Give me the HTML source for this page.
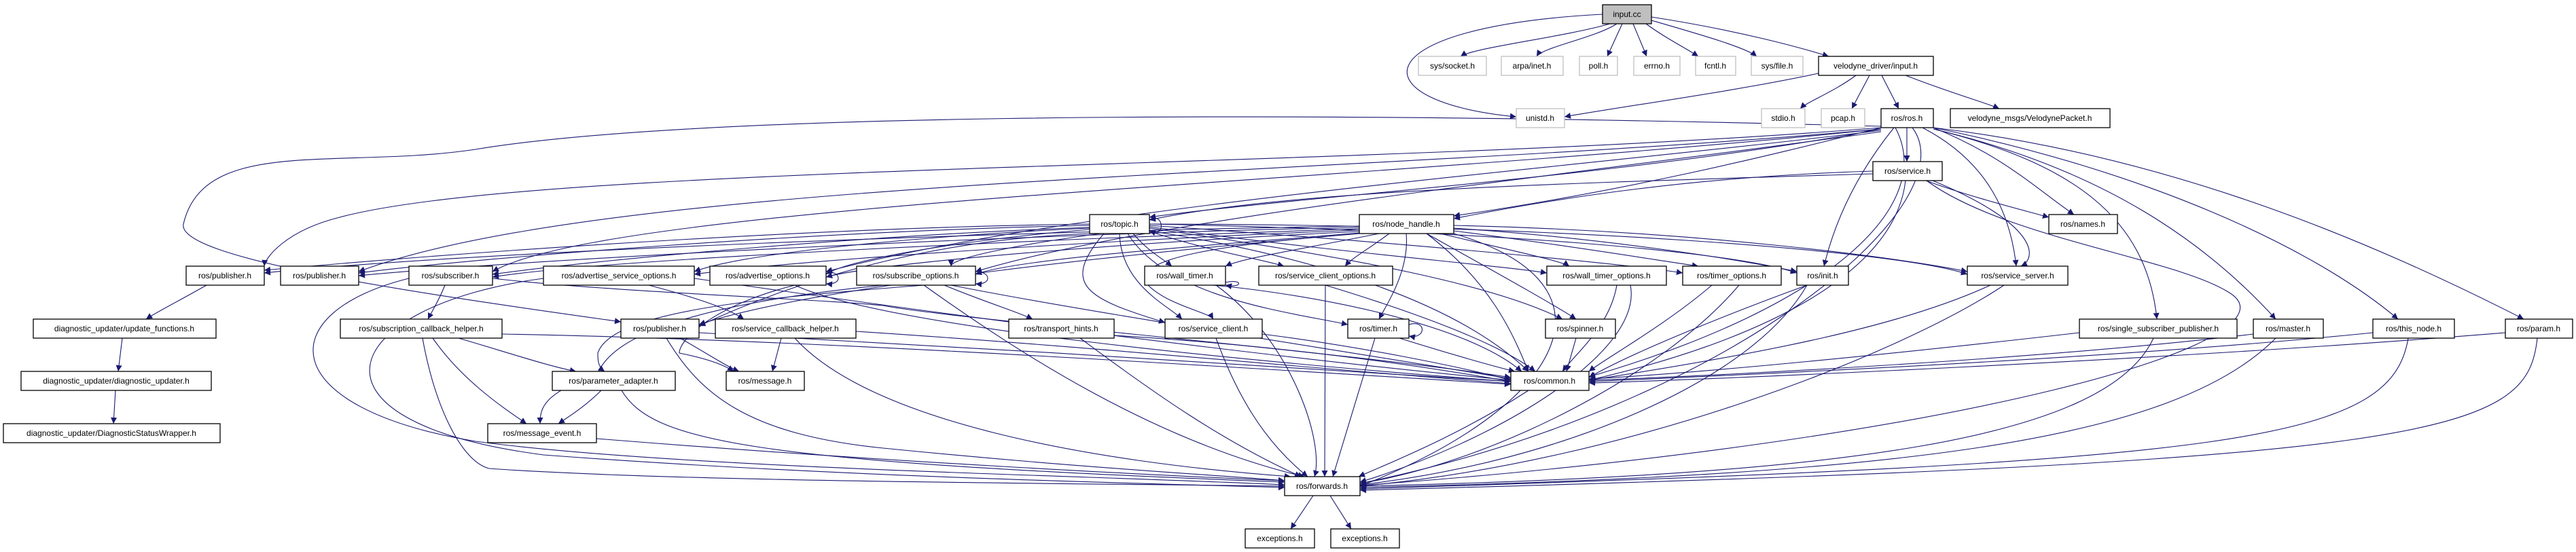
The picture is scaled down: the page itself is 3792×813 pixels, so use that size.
<!DOCTYPE html>
<html><head><meta charset="utf-8">
<style>
html,body{margin:0;padding:0;background:#fff;}
svg{display:block;}
text{font-family:"Liberation Sans",sans-serif;font-size:12px;fill:#000;text-anchor:middle;}
.n{fill:#fff;stroke:#000;stroke-width:1.3;}
.g{fill:#fff;stroke:#bfbfbf;stroke-width:1.3;}
.e path{fill:none;stroke:#191970;stroke-width:1.1;}
</style></head>
<body>
<svg width="3792" height="813" viewBox="0 0 3792 813" xmlns="http://www.w3.org/2000/svg">
<defs>
<marker id="a" viewBox="0 0 10 10" refX="10" refY="5" markerWidth="10" markerHeight="9" markerUnits="userSpaceOnUse" orient="auto">
<path d="M0,0 L10,5 L0,10 z" fill="#191970"/>
</marker>
</defs>
<g class="e" marker-end="url(#a)">
<!-- input.cc -->
<path d="M2370 35 C2300 55 2170 70 2150 83" marker-end="url(#a)"/>
<path d="M2380 35 C2350 55 2270 70 2262 83" marker-end="url(#a)"/>
<path d="M2388 35 L2366 83" marker-end="url(#a)"/>
<path d="M2404 35 L2424 83" marker-end="url(#a)"/>
<path d="M2423 35 C2450 55 2480 70 2500 83" marker-end="url(#a)"/>
<path d="M2431 30 C2500 50 2570 70 2586 83" marker-end="url(#a)"/>
<path d="M2431 25 C2560 45 2650 70 2692 83" marker-end="url(#a)"/>
<path d="M2359 21 C2000 40 2000 150 2232 172" marker-end="url(#a)"/>
<!-- velodyne input -->
<path d="M2677 108 C2550 135 2400 155 2303 172" marker-end="url(#a)"/>
<path d="M2732 111 C2700 135 2660 150 2650 160" marker-end="url(#a)"/>
<path d="M2752 111 L2726 160" marker-end="url(#a)"/>
<path d="M2770 111 L2795 160" marker-end="url(#a)"/>
<path d="M2805 111 C2880 140 2920 150 2943 160" marker-end="url(#a)"/>
<!-- ros.h -->
<path d="M2807 188 L2807 238" marker-end="url(#a)"/>
<path d="M2846 188 C2950 230 3000 280 3053 316" marker-end="url(#a)"/>
<path d="M2788 188 C2730 260 2700 330 2685 392" marker-end="url(#a)"/>
<path d="M2830 188 C2930 240 2960 320 2968 392" marker-end="url(#a)"/>
<path d="M2846 190 C3050 240 3160 320 3175 470" marker-end="url(#a)"/>
<path d="M2846 190 C3100 250 3250 360 3350 470" marker-end="url(#a)"/>
<path d="M2846 188 C3150 250 3400 360 3530 470" marker-end="url(#a)"/>
<path d="M2846 188 C3200 230 3500 360 3715 470" marker-end="url(#a)"/>
<path d="M2769 188 C2600 230 2400 280 2140 318" marker-end="url(#a)"/>
<path d="M2769 190 C2400 260 1900 290 1692 320" marker-end="url(#a)"/>
<path d="M2769 188 C2000 250 800 240 500 320 C420 340 390 380 389 392" marker-end="url(#a)"/>
<path d="M2769 190 C2000 260 900 260 528 400" marker-end="url(#a)"/>
<path d="M2769 190 C2000 270 900 300 725 400" marker-end="url(#a)"/>
<path d="M2769 192 C2300 250 1600 300 1216 400" marker-end="url(#a)"/>
<path d="M2769 194 C2300 260 1700 320 1436 400" marker-end="url(#a)"/>
<path d="M2769 186 C1800 160 1000 170 700 220 C500 250 300 200 270 330 C260 380 600 430 914 474" marker-end="url(#a)"/>
<path d="M2790 188 C2850 300 2700 450 2339 555" marker-end="url(#a)"/>
<path d="M2815 188 C2900 300 2550 600 2002 712" marker-end="url(#a)"/>
<!-- service.h -->
<path d="M2757 252 C2500 260 2300 290 2140 322" marker-end="url(#a)"/>
<path d="M2757 256 C2300 270 1900 280 1692 324" marker-end="url(#a)"/>
<path d="M2835 266 C2900 290 2980 310 3016 320" marker-end="url(#a)"/>
<path d="M2845 266 C3000 330 3000 380 2975 392" marker-end="url(#a)"/>
<path d="M2805 266 C2790 400 2600 500 2339 560" marker-end="url(#a)"/>
<path d="M2836 266 C2950 350 3200 380 3280 430 C3400 500 2900 650 2002 715" marker-end="url(#a)"/>
<!-- topic.h -->
<path d="M1604 330 C1200 335 700 370 389 398" marker-end="url(#a)"/>
<path d="M1604 332 C1200 340 700 380 528 402" marker-end="url(#a)"/>
<path d="M1604 335 C1300 345 900 380 725 404" marker-end="url(#a)"/>
<path d="M1604 336 C1400 345 1100 370 1022 400" marker-end="url(#a)"/>
<path d="M1604 338 C1450 350 1250 380 1216 404" marker-end="url(#a)"/>
<path d="M1620 344 C1500 360 1400 380 1400 392" marker-end="url(#a)"/>
<path d="M1668 344 C1690 370 1710 380 1725 392" marker-end="url(#a)"/>
<path d="M1690 340 C1780 370 1850 380 1890 392" marker-end="url(#a)"/>
<path d="M1648 344 C1650 420 1720 450 1740 470" marker-end="url(#a)"/>
<path d="M1625 344 C1560 420 1600 440 1715 475" marker-end="url(#a)"/>
<path d="M1660 344 C1720 440 1900 460 1984 478" marker-end="url(#a)"/>
<path d="M1692 336 C2000 380 2200 420 2300 470" marker-end="url(#a)"/>
<path d="M1692 334 C1950 370 2200 390 2277 402" marker-end="url(#a)"/>
<path d="M1692 332 C2100 360 2400 390 2477 402" marker-end="url(#a)"/>
<path d="M1692 330 C2200 340 2550 370 2645 402" marker-end="url(#a)"/>
<path d="M1692 330 C2300 330 2800 370 2896 404" marker-end="url(#a)"/>
<path d="M1610 344 C1400 350 1200 400 1029 480" marker-end="url(#a)"/>
<path d="M1692 340 C1950 380 2150 450 2250 547" marker-end="url(#a)"/>
<path d="M1692 324 C1710 310 1720 350 1692 340" marker-end="url(#a)"/>
<!-- node_handle.h -->
<path d="M2001 333 C1500 340 700 370 389 402" marker-end="url(#a)"/>
<path d="M2001 335 C1500 345 800 380 528 406" marker-end="url(#a)"/>
<path d="M2001 337 C1600 350 900 380 725 408" marker-end="url(#a)"/>
<path d="M2001 339 C1700 350 1200 380 1022 404" marker-end="url(#a)"/>
<path d="M2001 341 C1700 355 1300 385 1216 408" marker-end="url(#a)"/>
<path d="M2001 343 C1800 360 1500 380 1436 404" marker-end="url(#a)"/>
<path d="M2030 344 C1900 370 1830 380 1804 392" marker-end="url(#a)"/>
<path d="M2045 344 C2010 370 1990 380 1980 392" marker-end="url(#a)"/>
<path d="M2070 344 C2075 400 2040 450 2030 470" marker-end="url(#a)"/>
<path d="M2100 344 C2200 400 2290 450 2320 470" marker-end="url(#a)"/>
<path d="M2120 344 C2230 370 2300 385 2310 392" marker-end="url(#a)"/>
<path d="M2140 340 C2300 360 2450 385 2500 392" marker-end="url(#a)"/>
<path d="M2140 336 C2350 350 2550 380 2645 400" marker-end="url(#a)"/>
<path d="M2140 332 C2500 340 2800 380 2896 400" marker-end="url(#a)"/>
<path d="M2001 344 C1800 360 1660 380 1690 420 C1720 450 1780 460 1786 470" marker-end="url(#a)"/>
<path d="M2001 344 C1700 370 1200 420 1029 478" marker-end="url(#a)"/>
<path d="M2100 344 C2200 420 2230 500 2250 547" marker-end="url(#a)"/>
<path d="M2140 344 C2400 420 2300 600 2002 716" marker-end="url(#a)"/>
<!-- R5 to common / forwards -->
<path d="M725 410 C900 430 1200 440 1300 450 C1400 470 2000 520 2224 556" marker-end="url(#a)"/>
<path d="M1022 410 C1300 450 1800 520 2224 560" marker-end="url(#a)"/>
<path d="M1170 420 C1300 480 1800 530 2224 562" marker-end="url(#a)"/>
<path d="M1400 420 C1600 460 2000 520 2224 558" marker-end="url(#a)"/>
<path d="M1785 420 C1900 430 2150 470 2240 547" marker-end="url(#a)"/>
<path d="M1951 420 C2050 450 2200 500 2260 547" marker-end="url(#a)"/>
<path d="M2380 420 C2370 480 2320 520 2300 547" marker-end="url(#a)"/>
<path d="M2520 420 C2450 480 2360 530 2339 547" marker-end="url(#a)"/>
<path d="M2660 420 C2550 460 2400 520 2339 556" marker-end="url(#a)"/>
<path d="M2930 420 C2800 480 2600 520 2339 560" marker-end="url(#a)"/>
<path d="M602 410 C400 460 400 600 700 650 C1000 690 1600 700 1891 714" marker-end="url(#a)"/>
<path d="M800 410 C500 450 420 620 800 670 C1200 700 1600 710 1891 718" marker-end="url(#a)"/>
<path d="M1360 420 C1500 520 1700 650 1920 702" marker-end="url(#a)"/>
<path d="M1790 420 C1900 500 1950 650 1935 702" marker-end="url(#a)"/>
<path d="M1951 420 L1950 702" marker-end="url(#a)"/>
<path d="M2400 420 C2420 520 2200 650 2002 710" marker-end="url(#a)"/>
<path d="M2560 420 C2450 550 2200 680 2002 712" marker-end="url(#a)"/>
<path d="M2660 420 C2580 560 2300 680 2002 714" marker-end="url(#a)"/>
<path d="M2950 420 C2800 520 2400 680 2002 716" marker-end="url(#a)"/>
<path d="M1804 416 C1830 410 1830 425 1804 420" marker-end="url(#a)"/>
<path d="M1436 400 C1460 400 1460 420 1436 418" marker-end="url(#a)"/>
<path d="M1216 400 C1240 400 1240 420 1216 418" marker-end="url(#a)"/>
<!-- R5 internal -->
<path d="M304 420 C260 445 230 460 215 470" marker-end="url(#a)"/>
<path d="M655 420 C645 445 635 460 630 470" marker-end="url(#a)"/>
<path d="M955 420 C1050 445 1080 460 1095 470" marker-end="url(#a)"/>
<path d="M1390 420 C1450 445 1500 460 1520 470" marker-end="url(#a)"/>
<path d="M1300 420 C1000 450 900 500 880 550 C800 580 795 600 795 624" marker-end="url(#a)"/>
<path d="M1360 420 C1100 440 900 460 880 520 C880 530 880 540 890 547" marker-end="url(#a)"/>
<path d="M1170 420 C1050 450 1000 500 1000 520 C1050 530 1070 540 1080 547" marker-end="url(#a)"/>
<!-- diag chain -->
<path d="M180 498 L174 547" marker-end="url(#a)"/>
<path d="M170 575 L167 624" marker-end="url(#a)"/>
<!-- R6 -->
<path d="M675 498 C750 520 810 540 848 547" marker-end="url(#a)"/>
<path d="M637 498 C680 560 740 600 775 624" marker-end="url(#a)"/>
<path d="M622 498 C640 600 680 680 720 690 C1000 710 1600 712 1891 716" marker-end="url(#a)"/>
<path d="M739 492 C1200 500 1800 540 2224 566" marker-end="url(#a)"/>
<path d="M1001 498 C1040 520 1070 540 1088 547" marker-end="url(#a)"/>
<path d="M981 498 C1030 580 1100 640 1300 660 C1600 690 1800 700 1891 708" marker-end="url(#a)"/>
<path d="M1029 490 C1400 510 1900 540 2224 562" marker-end="url(#a)"/>
<path d="M1150 498 L1137 547" marker-end="url(#a)"/>
<path d="M1170 498 C1280 620 1600 680 1900 702" marker-end="url(#a)"/>
<path d="M1260 488 C1600 510 1900 540 2224 565" marker-end="url(#a)"/>
<path d="M1590 498 C1700 580 1800 650 1915 702" marker-end="url(#a)"/>
<path d="M1640 494 C1900 510 2100 540 2224 562" marker-end="url(#a)"/>
<path d="M1790 498 C1820 580 1860 650 1925 702" marker-end="url(#a)"/>
<path d="M1858 492 C2000 510 2150 540 2224 560" marker-end="url(#a)"/>
<path d="M2024 498 L1962 702" marker-end="url(#a)"/>
<path d="M2060 498 C2130 520 2200 540 2230 547" marker-end="url(#a)"/>
<path d="M2074 478 C2100 470 2100 500 2074 495" marker-end="url(#a)"/>
<path d="M2320 498 L2306 547" marker-end="url(#a)"/>
<path d="M3061 490 C2800 520 2500 550 2339 558" marker-end="url(#a)"/>
<path d="M3170 498 C3100 650 2700 700 2002 716" marker-end="url(#a)"/>
<path d="M3317 492 C3000 530 2500 555 2339 560" marker-end="url(#a)"/>
<path d="M3350 498 C3200 650 2800 700 2002 718" marker-end="url(#a)"/>
<path d="M3493 490 C3100 530 2500 555 2339 562" marker-end="url(#a)"/>
<path d="M3545 498 C3520 650 3300 680 2002 720" marker-end="url(#a)"/>
<path d="M3688 490 C3200 530 2500 560 2339 564" marker-end="url(#a)"/>
<path d="M3735 498 C3720 640 3600 680 2002 722" marker-end="url(#a)"/>
<!-- R7 -->
<path d="M885 575 C860 600 835 615 822 624" marker-end="url(#a)"/>
<path d="M915 575 C960 650 1100 680 1891 710" marker-end="url(#a)"/>
<path d="M878 646 C1300 680 1700 700 1891 708" marker-end="url(#a)"/>
<path d="M2250 575 C2150 640 2050 680 2000 702" marker-end="url(#a)"/>
<!-- forwards -->
<path d="M1933 730 L1900 779" marker-end="url(#a)"/>
<path d="M1958 730 L1989 779" marker-end="url(#a)"/>
</g>
<!-- nodes -->
<g>
<rect x="2359" y="7" width="72" height="28" fill="#bfbfbf" stroke="#000" stroke-width="1.3"/><text x="2395" y="25">input.cc</text>
<rect class="g" x="2088" y="83" width="100" height="28"/><text x="2138" y="101">sys/socket.h</text>
<rect class="g" x="2210" y="83" width="91" height="28"/><text x="2255" y="101">arpa/inet.h</text>
<rect class="g" x="2325" y="83" width="56" height="28"/><text x="2353" y="101">poll.h</text>
<rect class="g" x="2405" y="83" width="68" height="28"/><text x="2439" y="101">errno.h</text>
<rect class="g" x="2496" y="83" width="59" height="28"/><text x="2525" y="101">fcntl.h</text>
<rect class="g" x="2578" y="83" width="76" height="28"/><text x="2616" y="101">sys/file.h</text>
<rect class="n" x="2677" y="83" width="169" height="28"/><text x="2761" y="101">velodyne_driver/input.h</text>
<rect class="g" x="2232" y="160" width="71" height="28"/><text x="2267" y="178">unistd.h</text>
<rect class="g" x="2593" y="160" width="64" height="28"/><text x="2625" y="178">stdio.h</text>
<rect class="g" x="2681" y="160" width="64" height="28"/><text x="2713" y="178">pcap.h</text>
<rect class="n" x="2769" y="160" width="77" height="28"/><text x="2807" y="178">ros/ros.h</text>
<rect class="n" x="2871" y="160" width="235" height="28"/><text x="2988" y="178">velodyne_msgs/VelodynePacket.h</text>
<rect class="n" x="2757" y="238" width="102" height="28"/><text x="2808" y="256">ros/service.h</text>
<rect class="n" x="1604" y="316" width="88" height="28"/><text x="1648" y="334">ros/topic.h</text>
<rect class="n" x="2001" y="316" width="139" height="28"/><text x="2070" y="334">ros/node_handle.h</text>
<rect class="n" x="3016" y="316" width="101" height="28"/><text x="3066" y="334">ros/names.h</text>
<rect class="n" x="274" y="392" width="115" height="28"/><text x="331" y="410">ros/publisher.h</text>
<rect class="n" x="413" y="392" width="115" height="28"/><text x="470" y="410">ros/publisher.h</text>
<rect class="n" x="602" y="392" width="123" height="28"/><text x="663" y="410">ros/subscriber.h</text>
<rect class="n" x="800" y="392" width="222" height="28"/><text x="911" y="410">ros/advertise_service_options.h</text>
<rect class="n" x="1045" y="392" width="171" height="28"/><text x="1130" y="410">ros/advertise_options.h</text>
<rect class="n" x="1261" y="392" width="175" height="28"/><text x="1348" y="410">ros/subscribe_options.h</text>
<rect class="n" x="1685" y="392" width="119" height="28"/><text x="1744" y="410">ros/wall_timer.h</text>
<rect class="n" x="1853" y="392" width="197" height="28"/><text x="1951" y="410">ros/service_client_options.h</text>
<rect class="n" x="2277" y="392" width="176" height="28"/><text x="2365" y="410">ros/wall_timer_options.h</text>
<rect class="n" x="2477" y="392" width="145" height="28"/><text x="2549" y="410">ros/timer_options.h</text>
<rect class="n" x="2645" y="392" width="76" height="28"/><text x="2683" y="410">ros/init.h</text>
<rect class="n" x="2896" y="392" width="148" height="28"/><text x="2970" y="410">ros/service_server.h</text>
<rect class="n" x="49" y="470" width="269" height="28"/><text x="183" y="488">diagnostic_updater/update_functions.h</text>
<rect class="n" x="501" y="470" width="238" height="28"/><text x="620" y="488">ros/subscription_callback_helper.h</text>
<rect class="n" x="914" y="470" width="115" height="28"/><text x="971" y="488">ros/publisher.h</text>
<rect class="n" x="1053" y="470" width="207" height="28"/><text x="1156" y="488">ros/service_callback_helper.h</text>
<rect class="n" x="1485" y="470" width="155" height="28"/><text x="1562" y="488">ros/transport_hints.h</text>
<rect class="n" x="1715" y="470" width="143" height="28"/><text x="1786" y="488">ros/service_client.h</text>
<rect class="n" x="1984" y="470" width="90" height="28"/><text x="2029" y="488">ros/timer.h</text>
<rect class="n" x="2275" y="470" width="103" height="28"/><text x="2326" y="488">ros/spinner.h</text>
<rect class="n" x="3061" y="470" width="232" height="28"/><text x="3177" y="488">ros/single_subscriber_publisher.h</text>
<rect class="n" x="3317" y="470" width="103" height="28"/><text x="3368" y="488">ros/master.h</text>
<rect class="n" x="3493" y="470" width="120" height="28"/><text x="3553" y="488">ros/this_node.h</text>
<rect class="n" x="3688" y="470" width="99" height="28"/><text x="3737" y="488">ros/param.h</text>
<rect class="n" x="31" y="547" width="280" height="28"/><text x="171" y="565">diagnostic_updater/diagnostic_updater.h</text>
<rect class="n" x="813" y="547" width="181" height="28"/><text x="903" y="565">ros/parameter_adapter.h</text>
<rect class="n" x="1069" y="547" width="115" height="28"/><text x="1126" y="565">ros/message.h</text>
<rect class="n" x="2224" y="547" width="115" height="28"/><text x="2281" y="565">ros/common.h</text>
<rect class="n" x="5" y="624" width="319" height="28"/><text x="164" y="642">diagnostic_updater/DiagnosticStatusWrapper.h</text>
<rect class="n" x="718" y="624" width="160" height="28"/><text x="798" y="642">ros/message_event.h</text>
<rect class="n" x="1891" y="702" width="111" height="28"/><text x="1946" y="720">ros/forwards.h</text>
<rect class="n" x="1833" y="779" width="102" height="28"/><text x="1884" y="797">exceptions.h</text>
<rect class="n" x="1959" y="779" width="101" height="28"/><text x="2009" y="797">exceptions.h</text>
</g>
</svg>
</body></html>
